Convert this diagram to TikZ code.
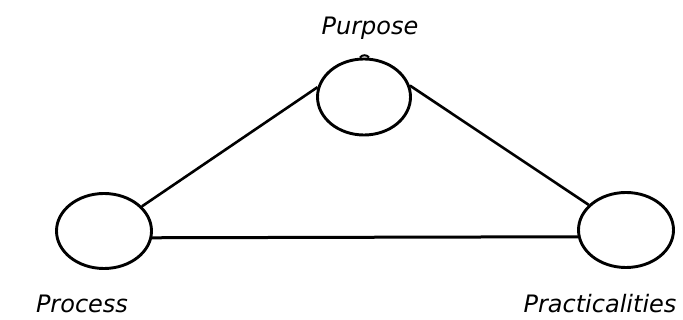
\documentclass[tikz,border=0pt]{standalone}
\usepackage{fontspec}
\setsansfont{DejaVu Sans}
\usetikzlibrary{shapes.geometric}

\begin{document}
\begin{tikzpicture}[x=1pt,y=-1pt,
  pcircle/.style={draw,ellipse,line width=2.9pt,inner sep=0pt,minimum width=95pt,minimum height=75pt},
  plabel/.style={font=\sffamily\itshape\fontsize{24}{24}\selectfont,anchor=base,inner sep=0pt},
  plink/.style={line width=2.6pt}]
\useasboundingbox (0,0) rectangle (683,320);
% ---- the three P's
\node[pcircle,minimum width=93pt,minimum height=76pt] (purpose) at (364,97) {};
\node[pcircle] (process) at (104,231) {};
\node[pcircle] (practical) at (626,230) {};
\node[plabel] (purposelbl) at (370,35) {Purpose};
\node[plabel] (processlbl) at (82,313) {Process};
\node[plabel] (practicallbl) at (600,313) {Practicalities};
% ---- small bump on top
\draw[line width=2pt] ([xshift=-4pt]purpose.north) to[bend left=60] ([xshift=5pt]purpose.north);
% ---- links
\draw[plink] (process.33) -- (purpose.168);
\draw[plink] (purpose.14) -- (practical.146);
\draw[plink,line width=3pt] (process.-8) -- (practical.-172);
\end{tikzpicture}
\end{document}
